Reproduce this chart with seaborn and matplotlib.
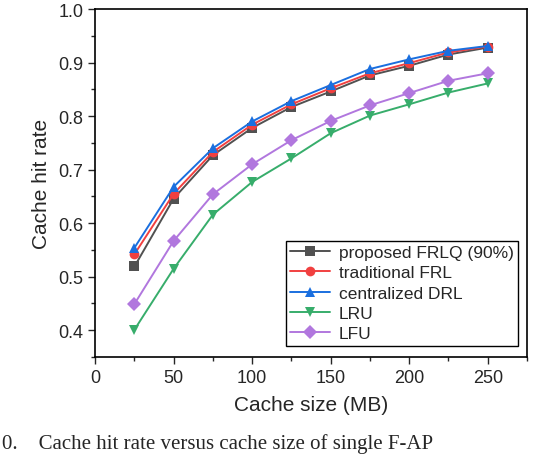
import pandas as pd
import numpy as np
import matplotlib
matplotlib.use("Agg")
import matplotlib.pyplot as plt
import seaborn as sbn
from matplotlib.ticker import MultipleLocator

# cache sizes (MB)
cache_size = [25, 50, 75, 100, 125, 150, 175, 200, 225, 250]

# hit rates
frlq = [0.519, 0.646, 0.727, 0.778, 0.817, 0.846, 0.876, 0.894, 0.915, 0.928]
frl = [0.542, 0.655, 0.733, 0.784, 0.822, 0.852, 0.880, 0.899, 0.919, 0.930]
drl = [0.554, 0.668, 0.740, 0.790, 0.828, 0.858, 0.888, 0.906, 0.922, 0.931]
lru = [0.401, 0.515, 0.616, 0.677, 0.721, 0.768, 0.801, 0.822, 0.844, 0.861]
lfu = [0.449, 0.567, 0.654, 0.710, 0.755, 0.791, 0.820, 0.843, 0.866, 0.880]

names = ["proposed FRLQ (90%)", "traditional FRL", "centralized DRL", "LRU", "LFU"]
colors = ["#515151", "#F14040", "#1A6FDF", "#37AD6B", "#B177DE"]
markers = ["s", "o", "^", "v", "D"]

rows = []
for name, vals in zip(names, [frlq, frl, drl, lru, lfu]):
    for x, v in zip(cache_size, vals):
        rows.append({"Cache size (MB)": x, "Cache hit rate": v, "method": name})
df = pd.DataFrame(rows)

sbn.set_style("ticks")
plt.rcParams["font.family"] = ["Liberation Sans", "DejaVu Sans"]

fig = plt.figure(figsize=(5.6, 4.56), dpi=100)
ax = fig.add_axes([0.17, 0.215, 0.771, 0.763])

sbn.lineplot(data=df, x="Cache size (MB)", y="Cache hit rate", hue="method",
             style="method", hue_order=names, style_order=names,
             palette=dict(zip(names, colors)), markers=dict(zip(names, markers)),
             dashes=False, markersize=7, markeredgewidth=0, linewidth=1.4, ax=ax)

ax.set_xlim(0, 275)
ax.set_ylim(0.35, 1.0)
ax.xaxis.set_minor_locator(MultipleLocator(25))
ax.yaxis.set_minor_locator(MultipleLocator(0.05))
ax.set_xticks([0, 50, 100, 150, 200, 250])
ax.set_yticks([0.4, 0.5, 0.6, 0.7, 0.8, 0.9, 1.0])
ax.tick_params(axis="both", which="major", length=5, width=1, labelsize=13, direction="out")
ax.tick_params(axis="both", which="minor", length=3, width=1, direction="out")
for s in ax.spines.values():
    s.set_linewidth(1.2)
    s.set_color("black")
ax.set_xlabel("Cache size (MB)", fontsize=15, labelpad=7)
ax.set_ylabel("Cache hit rate", fontsize=15, labelpad=5)

leg = ax.legend(loc="lower right", bbox_to_anchor=(0.979, 0.032), fontsize=12.5,
                fancybox=False, edgecolor="black", framealpha=1, handlelength=2.3,
                labelspacing=0.3, borderpad=0.25, handletextpad=0.5, borderaxespad=0)
leg.get_frame().set_linewidth(1.0)

# caption from the page, at the bottom of the crop
fig.text(0.003, 0.004, "0.    Cache hit rate versus cache size of single F-AP",
         family="Liberation Serif", fontsize=15, va="bottom", ha="left")

fig.savefig("out.png", dpi=100)
